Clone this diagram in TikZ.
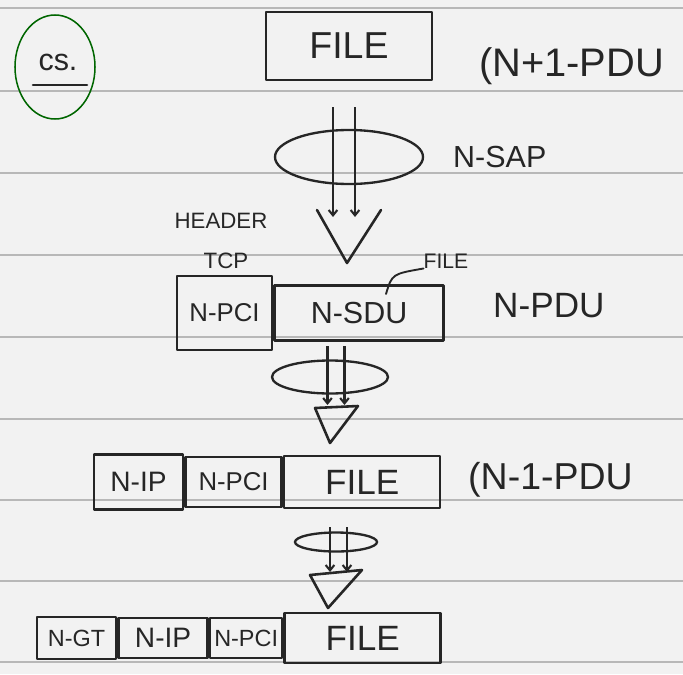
\documentclass[tikz,border=0pt]{standalone}
\usepackage{fontspec}
\setmainfont{Liberation Sans}
\usetikzlibrary{
    shapes.geometric,
    arrows.meta,
    calc,
    positioning
}

\tikzset{
    pen/.style={line width=2.2pt, draw=black!85, line join=round, line cap=round},
    pdu/.style={pen, rectangle, inner sep=0pt, text=black!85},
    lbl/.style={inner sep=0pt, text=black!85},
    fs/.style={font=\fontsize{#1}{#1}\selectfont},
    pipe/.style={line width=1.8pt, black!85, -{Straight Barb[length=1.6mm, width=2.6mm]}},
    sap/.style={line width=2pt, draw=black!85, ellipse, inner sep=0pt},
    ruled/.style={black!28, line width=0.9pt}
}

\begin{document}
\begin{tikzpicture}[x=0.3mm, y=-0.3mm]
    \path[use as bounding box, fill=black!5] (0,0) rectangle (683,674);
    \foreach \y in {8,91,173,255,337,419,500,581,662}
        \draw[ruled] (0,\y) -- (683,\y);

    % heading
    \node[draw=green!40!black, line width=1.3pt, ellipse, minimum width=24mm, minimum height=31.2mm] (csring) at (55,67) {};
    \node[lbl, fs=26] (cs) at (58,62) {cs.};
    \draw[pen] (33,85) -- (87,85);

    % N+1 layer
    \node[pdu, fs=32, minimum width=49.8mm, minimum height=20.4mm] (file1) at (349,46) {FILE};
    \node[lbl, fs=34, anchor=west] (pdu1) at (479,66) {(N+1-PDU};

    \node[sap, minimum width=44.4mm, minimum height=16.2mm] (sap1) at (349,157) {};
    \node[lbl, fs=26, anchor=west] (saplbl) at (453,157) {N-SAP};
    \coordinate (t1) at (344,107);
    \coordinate (b1) at (344,217);
    \coordinate (v1) at (347,263);
    \foreach \dx in {-11,11}
        \draw[pipe] ($(t1)+(\dx,0)$) -- ($(b1)+(\dx,0)$);
    \draw[pen] ($(v1)+(-30,-53)$) -- (v1) -- ($(v1)+(34,-53)$);

    % N layer
    \node[lbl, fs=19] (header) at (221,221) {HEADER};
    \node[lbl, fs=19] (tcp) at (226,261) {TCP};
    \node[pdu, fs=22, minimum width=28.5mm, minimum height=22.2mm] (pci1) at (224.5,313) {N-PCI};
    \node[pdu, fs=26, minimum width=50.7mm, minimum height=16.5mm, right=0pt of pci1] (sdu1) {N-SDU};
    \node[lbl, fs=18] (filelbl) at (446,261) {FILE};
    \coordinate (fileptr) at (386,294);
    \draw[line width=1.6pt, black!85, line cap=round] (filelbl.south west) .. controls (392,274) .. (fileptr);
    \node[lbl, fs=30, anchor=west] (pdu2) at (493,306) {N-PDU};

    \node[sap, minimum width=34.8mm, minimum height=9.9mm] (sap2) at (330,377) {};
    \coordinate (t2) at (336,346);
    \coordinate (b2) at (336,405);
    \coordinate (v2) at (330,443);
    \foreach \dx in {-8.5,8.5}
        \draw[pipe] ($(t2)+(\dx,0)$) -- ($(b2)+(\dx,0)$);
    \draw[pen] ($(v2)+(-15,-35)$) -- (v2) -- ($(v2)+(28,-37)$) -- cycle;

    % N-1 layer
    \node[pdu, fs=24, minimum width=26.7mm, minimum height=16.5mm] (nip1) at (138.5,482) {N-IP};
    \node[pdu, fs=22, minimum width=28.8mm, minimum height=15mm, right=0pt of nip1] (pci2) {N-PCI};
    \node[pdu, fs=30, minimum width=46.8mm, minimum height=15.6mm, right=0pt of pci2] (file2) {FILE};
    \node[lbl, fs=32, anchor=west] (pdu3) at (468,480) {(N-1-PDU};

    \node[sap, minimum width=24.6mm, minimum height=5.7mm] (sap3) at (336,542) {};
    \coordinate (t3) at (338.5,527);
    \coordinate (b3) at (338.5,572);
    \coordinate (v3) at (328,608);
    \foreach \dx in {-8.5,8.5}
        \draw[pipe] ($(t3)+(\dx,0)$) -- ($(b3)+(\dx,0)$);
    \draw[pen] ($(v3)+(-18,-33)$) -- (v3) -- ($(v3)+(34,-38)$) -- cycle;

    % N-2 layer
    \node[pdu, fs=20, minimum width=23.7mm, minimum height=12.6mm] (ngt) at (76.5,638) {N-GT};
    \node[pdu, fs=24, minimum width=26.7mm, minimum height=12mm, right=0pt of ngt] (nip2) {N-IP};
    \node[pdu, fs=20, minimum width=21.6mm, minimum height=12mm, right=0pt of nip2] (pci3) {N-PCI};
    \node[pdu, fs=30, minimum width=46.8mm, minimum height=15mm, right=0pt of pci3] (file3) {FILE};
\end{tikzpicture}
\end{document}
